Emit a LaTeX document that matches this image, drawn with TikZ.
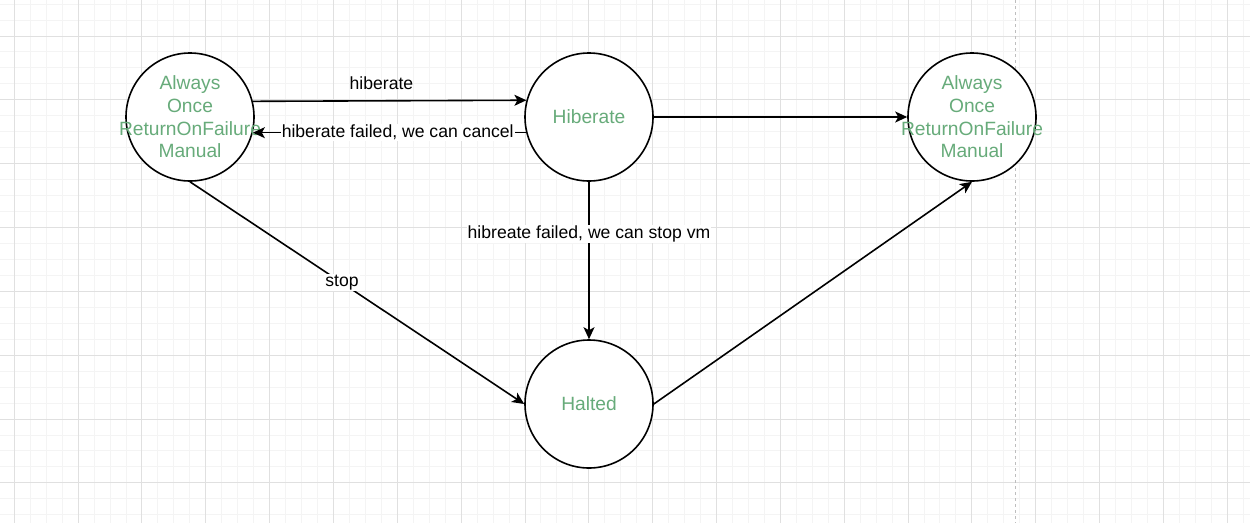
\documentclass[tikz,border=0pt]{standalone}
\usepackage{fontspec}
\setmainfont{Liberation Sans}
\usetikzlibrary{arrows.meta}
\definecolor{stategreen}{RGB}{103,171,122}
\definecolor{gridminor}{RGB}{244,244,244}
\definecolor{gridmajor}{RGB}{224,224,224}
\definecolor{pagebreak}{RGB}{190,190,190}
\newcommand{\zw}[1]{\makebox[0pt][c]{#1}}
\begin{document}
\begin{tikzpicture}[x=1pt,y=-1pt,
  state/.style={circle,draw=black,fill=white,line width=1.6pt,minimum size=128pt,inner sep=0pt,
    text=stategreen,align=center,font=\fontsize{19.2}{22.7}\selectfont},
  conn/.style={line width=1.6pt,-{Stealth[length=12pt,width=11pt,inset=3pt]}},
  lbl/.style={font=\fontsize{17.6}{21}\selectfont,text=black,inner sep=0pt},
  lblbg/.style={lbl,fill=white,inner sep=1pt}]
\useasboundingbox (0,0) rectangle (1250,523);
\fill[white] (0,0) rectangle (1250,523);
% grid
\foreach \k in {0,...,77} {\draw[gridminor,line width=1pt] ({14.3+15.96*\k},0) -- ({14.3+15.96*\k},523);}
\foreach \k in {0,...,32} {\draw[gridminor,line width=1pt] (0,{4.1+15.96*\k}) -- (1250,{4.1+15.96*\k});}
\foreach \k in {0,...,19} {\draw[gridmajor,line width=1pt] ({14.3+63.84*\k},0) -- ({14.3+63.84*\k},523);}
\foreach \k in {0,...,7} {\draw[gridmajor,line width=1pt] (0,{36.02+63.84*\k}) -- (1250,{36.02+63.84*\k});}
\draw[pagebreak,line width=1pt,dash pattern=on 3pt off 3pt] (1015.5,0) -- (1015.5,523);
% states
\node[state] (L) at (190,117) {\zw{Always}\\\zw{Once}\\\zw{ReturnOnFailure}\\\zw{Manual}};
\node[state] (H) at (589,117) {\zw{Hiberate}};
\node[state] (R) at (972,117) {\zw{Always}\\\zw{Once}\\\zw{ReturnOnFailure}\\\zw{Manual}};
\node[state] (T) at (589,404) {\zw{Halted}};
% connectors
\draw[conn] (L.14.48) -- node[lbl,anchor=south,pos=0.47,yshift=10pt] {hiberate} (H.165.52);
\draw[conn] (H.194.48) -- node[lblbg,pos=0.47] {hiberate failed, we can cancel} (L.-14.48);
\draw[conn] (H.east) -- (R.west);
\draw[conn] (H.south) -- node[lblbg,pos=0.33] {hibreate failed, we can stop vm} (T.north);
\draw[conn] (L.south) -- node[lblbg,pos=0.455] {stop} (T.west);
\draw[conn] (T.east) -- (R.south);
\end{tikzpicture}
\end{document}
